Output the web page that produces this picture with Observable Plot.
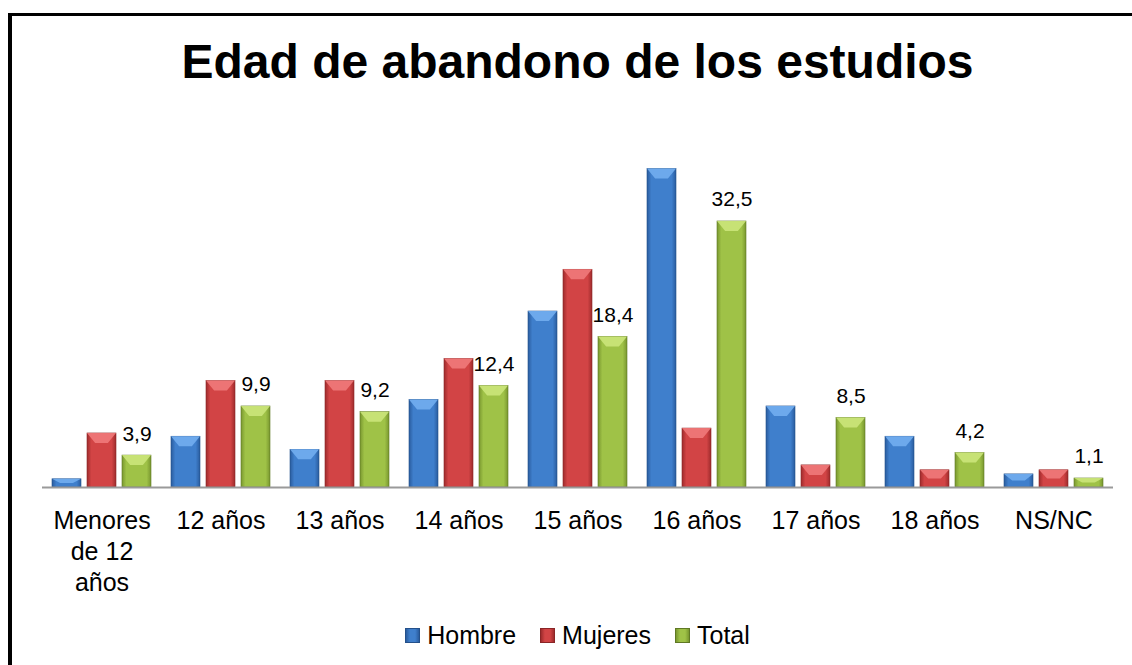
<!DOCTYPE html>
<html>
<head>
<meta charset="utf-8">
<script src="https://cdn.jsdelivr.net/npm/d3@7"></script>
<script src="https://cdn.jsdelivr.net/npm/@observablehq/plot@0.6"></script>
<style>
  html, body { margin: 0; padding: 0; background: #fff; overflow: hidden; }
  body { width: 1132px; height: 665px; position: relative; font-family: Arial, "Liberation Sans", sans-serif; }
  #frame { position: absolute; left: 8px; top: 13px; width: 2000px; height: 2000px;
           border-left: 4px solid #000; border-top: 3px solid #000; box-sizing: border-box; }
  #title { position: absolute; left: 0; top: 38px; width: 1155px; text-align: center;
           font-size: 48px; line-height: 48px; font-weight: bold; color: #000; }
  #chart { position: absolute; left: 0; top: 140px; }
  #legend { position: absolute; left: 0; top: 623px; width: 1155px; display: flex; justify-content: center;
            align-items: center; font-size: 25px; line-height: 25px; color: #000; }
  .item { display: flex; align-items: center; margin: 0 12px; }
  .sw { width: 15px; height: 15px; margin-right: 7px; box-sizing: border-box; }
</style>
</head>
<body>
<div id="frame"></div>
<div id="title">Edad de abandono de los estudios</div>
<div id="chart"></div>
<div id="legend"></div>
<script>
const categories = ["Menores de 12 años", "12 años", "13 años", "14 años", "15 años", "16 años", "17 años", "18 años", "NS/NC"];
const series = ["Hombre", "Mujeres", "Total"];
const hombre  = [1.0, 6.2, 4.6, 10.7, 21.5, 38.9, 9.9, 6.2, 1.6];
const mujeres = [6.6, 13.0, 13.0, 15.7, 26.6, 7.2, 2.7, 2.1, 2.1];
const total   = [3.9, 9.9, 9.2, 12.4, 18.4, 32.5, 8.5, 4.2, 1.1];
const tickLabels = {"Menores de 12 años": "Menores\nde 12\naños"};

const palette = {
  Hombre:  {edge: "#2a5c9e", mid: "#3f7fcc", cap: "#72aef0", stroke: "#24508a"},
  Mujeres: {edge: "#9e2b2c", mid: "#d24445", cap: "#ef7a7a", stroke: "#8a2526"},
  Total:   {edge: "#79972f", mid: "#9fc247", cap: "#cbe67a", stroke: "#5f7824"}
};
const gradId = {Hombre: "gH", Mujeres: "gM", Total: "gT"};

const rows = [];
categories.forEach((c, i) => {
  rows.push({category: c, series: "Hombre", value: hombre[i]});
  rows.push({category: c, series: "Mujeres", value: mujeres[i]});
  rows.push({category: c, series: "Total", value: total[i]});
});
const totals = rows.filter(d => d.series === "Total");
const fmt = v => v.toFixed(1).replace(".", ",");

const plot = Plot.plot({
  width: 1132,
  height: 470,
  marginLeft: 40,
  marginRight: 17,
  marginTop: 19.6,
  marginBottom: 123,
  style: {fontFamily: "Arial, 'Liberation Sans', sans-serif", color: "#000", background: "transparent"},
  fx: {domain: categories, padding: 0, label: null},
  x: {domain: series, paddingInner: 0.17, paddingOuter: 0.27, axis: null},
  y: {domain: [0, 40], axis: null},
  color: {domain: series, range: series.map(s => `url(#${gradId[s]})`)},
  marks: [
    Plot.barY(rows, {fx: "category", x: "series", y: "value", fill: "series",
      stroke: d => palette[d.series].stroke, strokeWidth: 0.6}),
    Plot.ruleY([0], {stroke: "#9a9a9a", strokeWidth: 2}),
    Plot.text(totals, {fx: "category", x: "series", y: "value", text: d => fmt(d.value),
      lineAnchor: "bottom", dy: -15, fontSize: 21, fill: "#000"}),
    Plot.axisFx({anchor: "bottom", tickSize: 0, tickPadding: 19, fontSize: 25, lineHeight: 1.25,
      tickFormat: d => tickLabels[d] || d, label: null, fill: "#000"})
  ]
});

// gradients for bevelled bar look
const ns = "http://www.w3.org/2000/svg";
const defs = document.createElementNS(ns, "defs");
series.forEach(s => {
  const p = palette[s];
  const g = document.createElementNS(ns, "linearGradient");
  g.setAttribute("id", gradId[s]);
  g.setAttribute("x1", "0"); g.setAttribute("x2", "1"); g.setAttribute("y1", "0"); g.setAttribute("y2", "0");
  [[0, p.edge], [0.15, p.mid], [0.5, p.mid], [0.85, p.mid], [1, p.edge]].forEach(([o, c]) => {
    const st = document.createElementNS(ns, "stop");
    st.setAttribute("offset", o); st.setAttribute("stop-color", c);
    g.appendChild(st);
  });
  defs.appendChild(g);
});
plot.insertBefore(defs, plot.firstChild);

// bevel caps on top of each rendered bar (derived from the rendered rects)
const capByGrad = {};
series.forEach(s => capByGrad[`url(#${gradId[s]})`] = palette[s].cap);
plot.querySelectorAll('g[aria-label="bar"] rect').forEach(r => {
  const x = +r.getAttribute("x"), y = +r.getAttribute("y");
  const w = +r.getAttribute("width"), h = +r.getAttribute("height");
  const cap = capByGrad[r.getAttribute("fill")];
  if (!cap || !(h > 0)) return;
  const d = Math.min(10, h / 2);
  const poly = document.createElementNS(ns, "polygon");
  poly.setAttribute("points", `${x},${y} ${x + w},${y} ${x + w * 0.72},${y + d} ${x + w * 0.28},${y + d}`);
  poly.setAttribute("fill", cap);
  poly.setAttribute("fill-opacity", "0.9");
  const t = r.getAttribute("transform");
  if (t) poly.setAttribute("transform", t);
  r.parentNode.insertBefore(poly, r.nextSibling);
});

document.getElementById("chart").appendChild(plot);

// legend
const legend = document.getElementById("legend");
series.forEach(s => {
  const p = palette[s];
  const item = document.createElement("div");
  item.className = "item";
  const sw = document.createElement("span");
  sw.className = "sw";
  sw.style.background = `linear-gradient(to right, ${p.edge}, ${p.mid} 30%, ${p.mid} 70%, ${p.edge})`;
  sw.style.border = `1px solid ${p.stroke}`;
  const t = document.createElement("span");
  t.textContent = s;
  item.appendChild(sw); item.appendChild(t);
  legend.appendChild(item);
});
</script>
</body>
</html>
